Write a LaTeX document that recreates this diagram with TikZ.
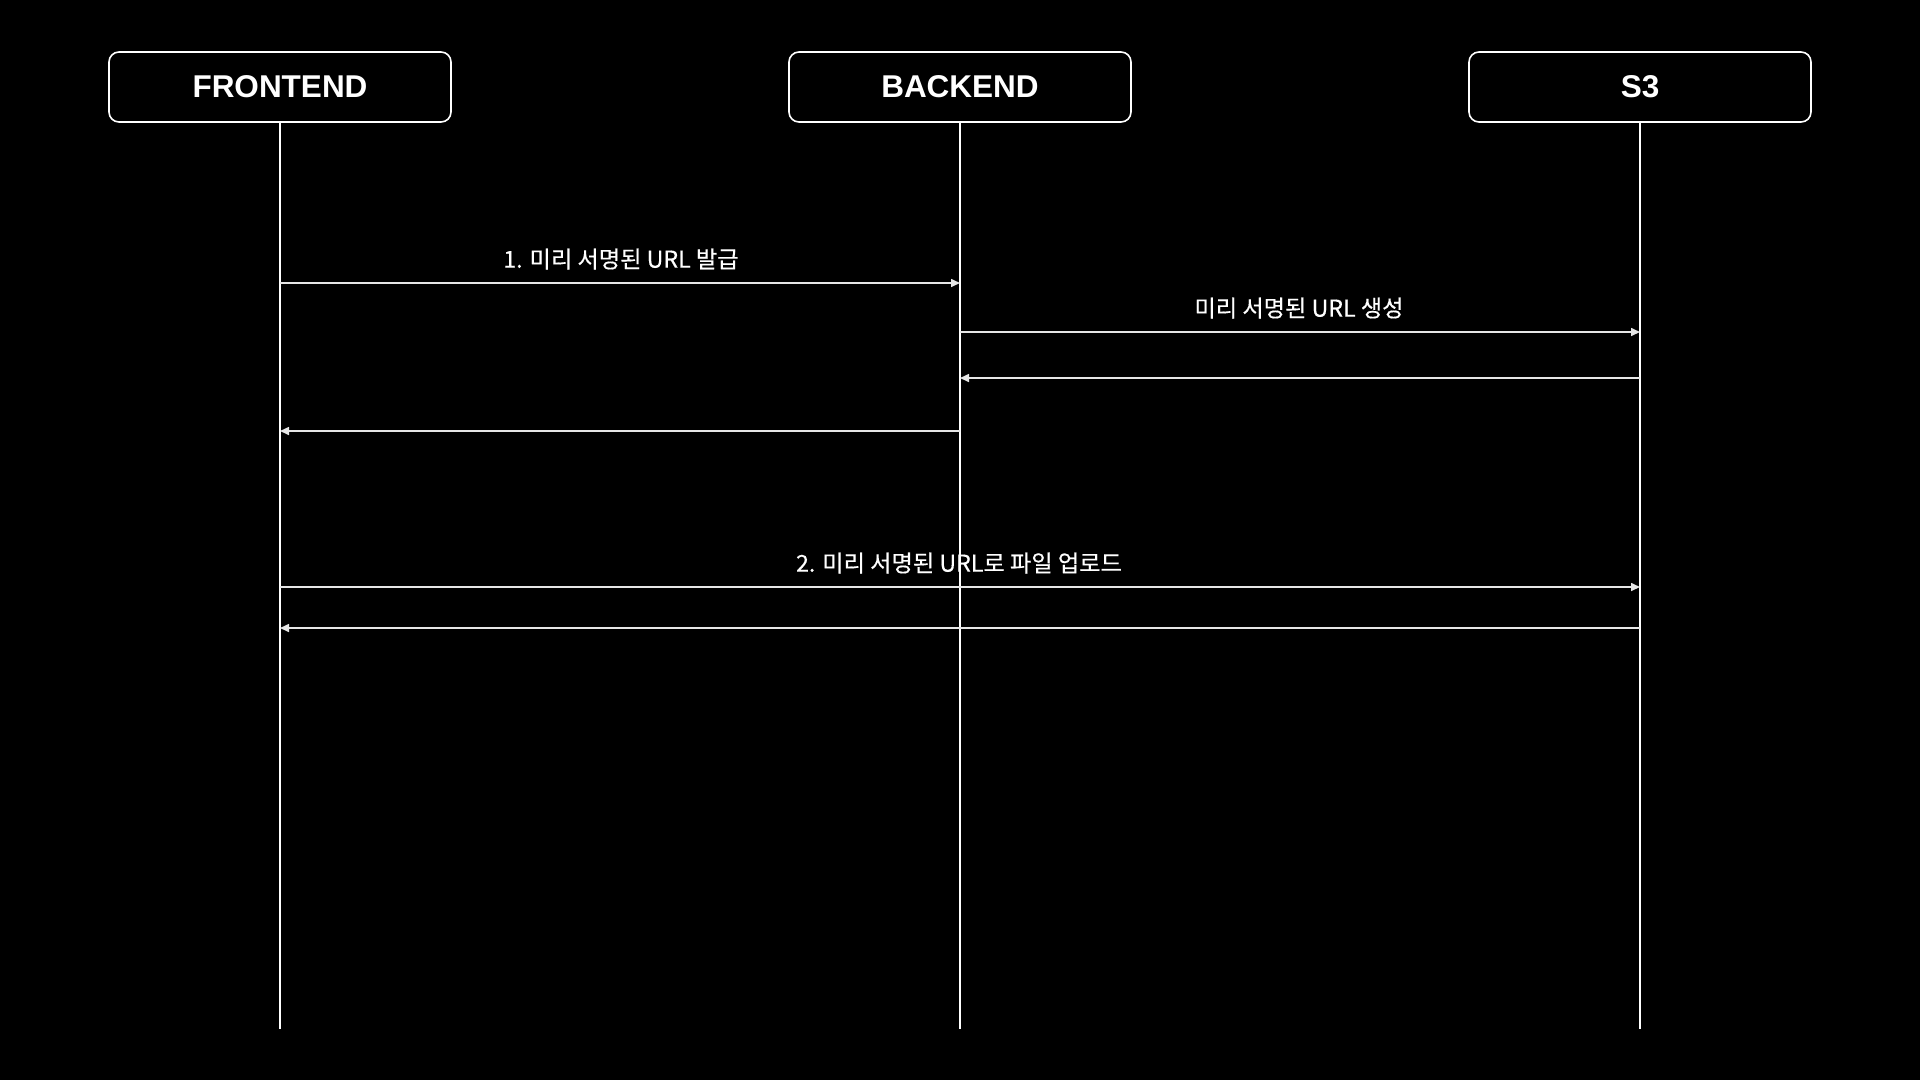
\documentclass[tikz,border=0pt]{standalone}
\usepackage{fontspec}
\setmainfont{Noto Sans CJK KR}
\newfontfamily\lblfont{Noto Sans CJK KR}[FakeBold=0.4]
\newfontfamily\boxfont{Liberation Sans}
\usetikzlibrary{arrows.meta}
\definecolor{msgline}{HTML}{E6E6E6}
\begin{document}
\begin{tikzpicture}[x=1pt,y=-1pt,
  actor/.style={draw=white,line width=1.6pt,rounded corners=10pt,minimum width=342pt,minimum height=70pt,inner sep=0pt,text=white,font=\boxfont\bfseries\fontsize{31.5}{36}\selectfont},
  lifeline/.style={draw=white,line width=1.6pt},
  msg/.style={draw=msgline,line width=1.6pt,-{Triangle[length=9pt,width=8pt]}},
  lbl/.style={text=white,inner sep=0pt,font=\lblfont\fontsize{23.2}{27}\selectfont}]
\fill[black] (0,0) rectangle (1920,1080);
\useasboundingbox (0,0) rectangle (1920,1080);
\node[actor] (fe) at (280,87) {FRONTEND};
\node[actor] (be) at (960,87) {BACKEND};
\node[actor] (s3) at (1640,87) {S3};
\coordinate (feend) at (280,1029);
\coordinate (beend) at (960,1029);
\coordinate (s3end) at (1640,1029);
\draw[lifeline] (fe.south) -- (feend);
\draw[lifeline] (be.south) -- (beend);
\draw[lifeline] (s3.south) -- (s3end);
% message anchor points on lifelines
\coordinate (fe1) at (280,283); \coordinate (be1) at (960,283);
\coordinate (be2) at (960,332); \coordinate (s32) at (1640,332);
\coordinate (s33) at (1640,378); \coordinate (be3) at (960,378);
\coordinate (be4) at (960,431); \coordinate (fe4) at (280,431);
\coordinate (fe5) at (280,587); \coordinate (s35) at (1640,587);
\coordinate (s36) at (1640,628); \coordinate (fe6) at (280,628);
\draw[msg] (fe1) -- (be1);
\draw[msg] (be2) -- (s32);
\draw[msg] (s33) -- (be3);
\draw[msg] (be4) -- (fe4);
\draw[msg] (fe5) -- (s35);
\draw[msg] (s36) -- (fe6);
\node[lbl] (l1) at (621,259) {1. 미리 서명된 URL 발급};
\node[lbl] (l2) at (1299,308) {미리 서명된 URL 생성};
\node[lbl] (l3) at (959,563) {2. 미리 서명된 URL로 파일 업로드};
\end{tikzpicture}
\end{document}
